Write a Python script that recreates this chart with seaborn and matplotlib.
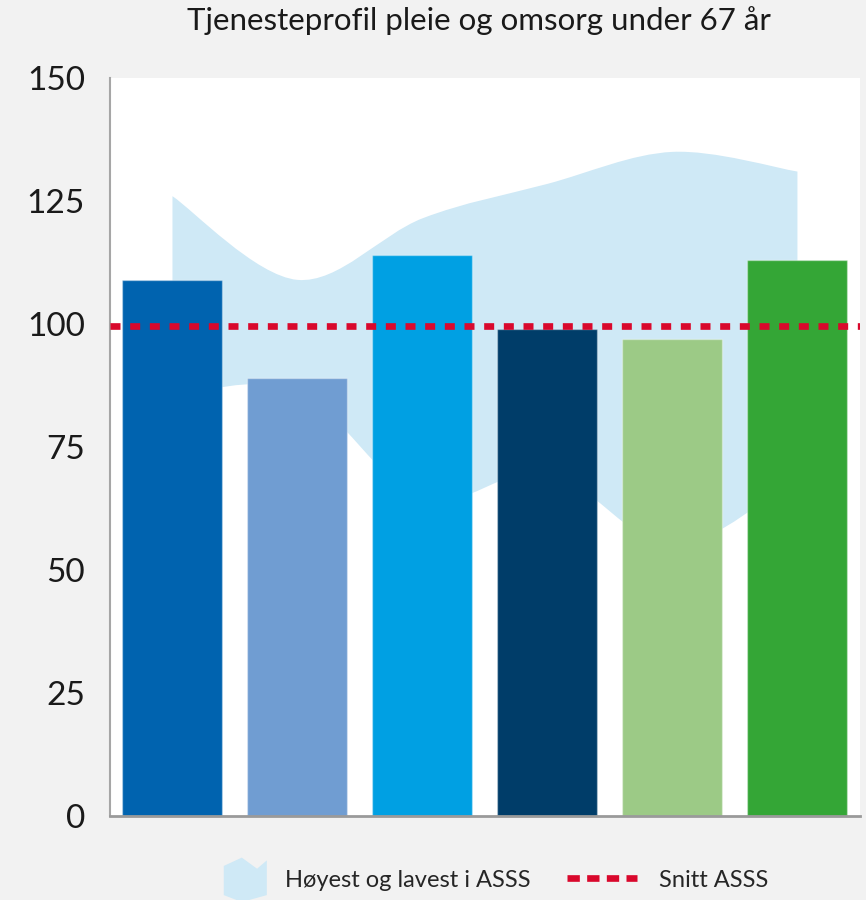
import numpy as np
import pandas as pd
import seaborn as sns
import matplotlib.pyplot as plt
from matplotlib.path import Path
from matplotlib.patches import PathPatch, Patch, Polygon
from matplotlib.lines import Line2D
from matplotlib.legend_handler import HandlerPatch

TITLE = "Tjenesteprofil pleie og omsorg under 67 år"
CATEGORIES = ["K1", "K2", "K3", "K4", "K5", "K6"]
VALUES = [109, 89, 114, 99, 97, 113]
BAR_COLORS = ["#0063AF", "#709DD2", "#00A0E3", "#003D69", "#9CCA86", "#34A636"]
HIGH = [126, 109, 121.5, 128.5, 135, 131]
LOW = [85.5, 86.5, 64.5, 70, 55, 69]
AVERAGE = 99.6
Y_TICKS = [0, 25, 50, 75, 100, 125, 150]
LEGEND_BAND = "Høyest og lavest i ASSS"
LEGEND_AVG = "Snitt ASSS"

BG = "#F2F2F2"
BAND = "#CFE9F6"
RED = "#D9082C"


def bezier_segments(xs, ys):
    # Catmull-Rom style control points so the band edge is drawn as smooth curves
    pts = np.column_stack([xs, ys]).astype(float)
    n = len(pts)
    verts = []
    for i in range(n - 1):
        p0 = pts[max(i - 1, 0)]
        p1 = pts[i]
        p2 = pts[i + 1]
        p3 = pts[min(i + 2, n - 1)]
        c1 = p1 + (p2 - p0) / 6
        c2 = p2 - (p3 - p1) / 6
        verts += [tuple(c1), tuple(c2), tuple(p2)]
    return verts


def band_icon(legend, orig_handle, xdescent, ydescent, width, height, fontsize):
    # odd little hexagon used as the band's legend symbol
    x0, x1 = width - 28, width + 3
    yc = height / 2 - ydescent
    pts = [(x0, yc + 9), (x0 + 13, yc + 15), (x0 + 24, yc + 7), (x1, yc + 13),
           (x1, yc - 12), (x0 + 13, yc - 17), (x0, yc - 12)]
    return Polygon(pts, closed=True)


sns.set_style("white")
plt.rcParams["font.family"] = ["Lato", "DejaVu Sans"]

df = pd.DataFrame({"kategori": CATEGORIES, "verdi": VALUES})

fig = plt.figure(figsize=(8.66, 9), dpi=100, facecolor=BG)
ax = fig.add_axes([0.127, 0.0928, 0.866, 0.8205])
ax.set_facecolor("white")

x = np.arange(len(CATEGORIES))

# band: upper edge left to right, lower edge right to left
verts = [(x[0], HIGH[0])]
codes = [Path.MOVETO]
up = bezier_segments(x, HIGH)
verts += up
codes += [Path.CURVE4] * len(up)
verts.append((x[-1], LOW[-1]))
codes.append(Path.LINETO)
low = bezier_segments(x[::-1], LOW[::-1])
verts += low
codes += [Path.CURVE4] * len(low)
verts.append((x[0], HIGH[0]))
codes.append(Path.CLOSEPOLY)
ax.add_patch(PathPatch(Path(verts, codes), facecolor=BAND, edgecolor="none", zorder=1))

sns.barplot(data=df, x="kategori", y="verdi", hue="kategori", palette=BAR_COLORS,
            saturation=1, width=0.8, legend=False, ax=ax, zorder=2,
            edgecolor=(1, 1, 1, 0.35), linewidth=1)

ax.axhline(AVERAGE, color=RED, lw=4.8, dashes=(1.5, 1.45), zorder=3)

ax.set_xlim(-0.5, len(CATEGORIES) - 0.5)
ax.set_ylim(0, 150)
ax.set_yticks(Y_TICKS)
ax.set_xticks([])
ax.set_xlabel("")
ax.set_ylabel("")
ax.tick_params(axis="y", length=0, pad=18, labelsize=24, labelcolor="#1a1a1a")

for s in ["top", "right"]:
    ax.spines[s].set_visible(False)
ax.spines["left"].set_color("#A6A6A6")
ax.spines["left"].set_linewidth(1.5)
ax.spines["bottom"].set_color("#9A9A9A")
ax.spines["bottom"].set_linewidth(2)

fig.text(0.5525, 0.977, TITLE, ha="center", va="center", fontsize=22.5, color="#1a1a1a")

handles = [
    Patch(facecolor=BAND, edgecolor="none"),
    Line2D([0], [0], color=RED, lw=4.8, dashes=(1.85, 1.1)),
]
fig.legend(handles, [LEGEND_BAND, LEGEND_AVG], loc="center", ncol=2,
           bbox_to_anchor=(0.555, 0.022), frameon=False, fontsize=17,
           handlelength=2.96, handleheight=0.7, columnspacing=1.57, handletextpad=0.93,
           handler_map={Patch: HandlerPatch(patch_func=band_icon)})

fig.savefig("out.png", dpi=100, facecolor=BG)
